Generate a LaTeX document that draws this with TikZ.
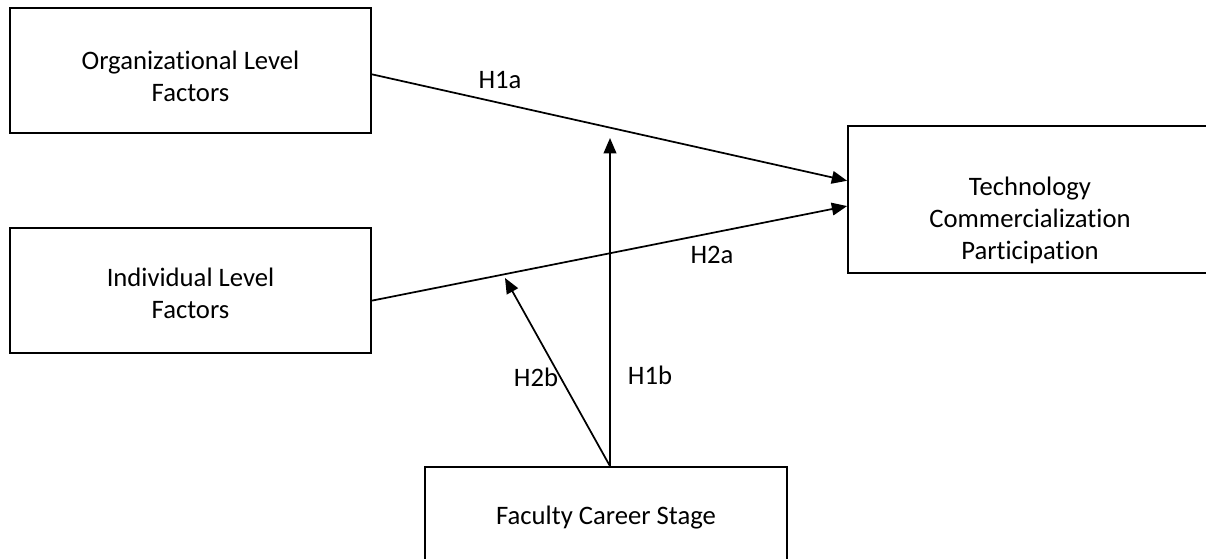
\documentclass[tikz,border=0pt]{standalone}
\usepackage{fontspec}
\setmainfont{Carlito}[Ligatures=NoCommon]
\usetikzlibrary{arrows.meta,calc}
\begin{document}
\begin{tikzpicture}[x=0.75pt,y=-0.75pt,
  box/.style={draw,line width=1.3pt,inner sep=0pt},
  lbl/.style={align=center,font=\fontsize{20}{24}\selectfont,inner sep=0pt},
  arr/.style={line width=1.3pt,-{Triangle[length=11.5pt,width=9.5pt]}}]
\useasboundingbox (0,0) rectangle (1206,558);
\clip (0,0) rectangle (1206,558);
% boxes
\node[box,minimum width=361*0.75pt,minimum height=125*0.75pt] (org) at (190.5,70.5) {};
\node[box,minimum width=361*0.75pt,minimum height=125*0.75pt] (ind) at (190.5,290.5) {};
\node[box,minimum width=364*0.75pt,minimum height=147*0.75pt] (tech) at (1030,199.5) {};
\node[box,minimum width=362*0.75pt,minimum height=130*0.75pt] (fac) at (606,532) {};
% texts
\node[lbl] (orgt) at (190.5,76) {Organizational Level\\Factors};
\node[lbl] (indt) at (190.5,293) {Individual Level\\Factors};
\node[lbl] (techt) at (1030,220) {Technology\\Commercialization\\Participation};
\node[lbl] (fact) at (606,518) {Faculty Career Stage};
% anchor coordinates
\coordinate (o1) at ($(org.north east)!0.53!(org.south east)$);
\coordinate (i1) at ($(ind.north east)!0.58!(ind.south east)$);
\coordinate (t1) at ($(tech.north west)!0.374!(tech.south west)$);
\coordinate (t2) at ($(tech.north west)!0.544!(tech.south west)$);
\coordinate (f1) at ($(fac.north)+(4,0)$);
\coordinate (m1) at (610,138);
\coordinate (m2) at (505,278);
% connectors
\draw[arr] (o1) -- (t1);
\draw[arr] (i1) -- (t2);
\draw[arr] (f1) -- (m1);
\draw[arr] (f1) -- (m2);
% labels
\node[lbl] (h1a) at (500,80) {H1a};
\node[lbl] (h2a) at (712,255) {H2a};
\node[lbl] (h2b) at (536,377) {H2b};
\node[lbl] (h1b) at (650,375) {H1b};
\end{tikzpicture}
\end{document}
